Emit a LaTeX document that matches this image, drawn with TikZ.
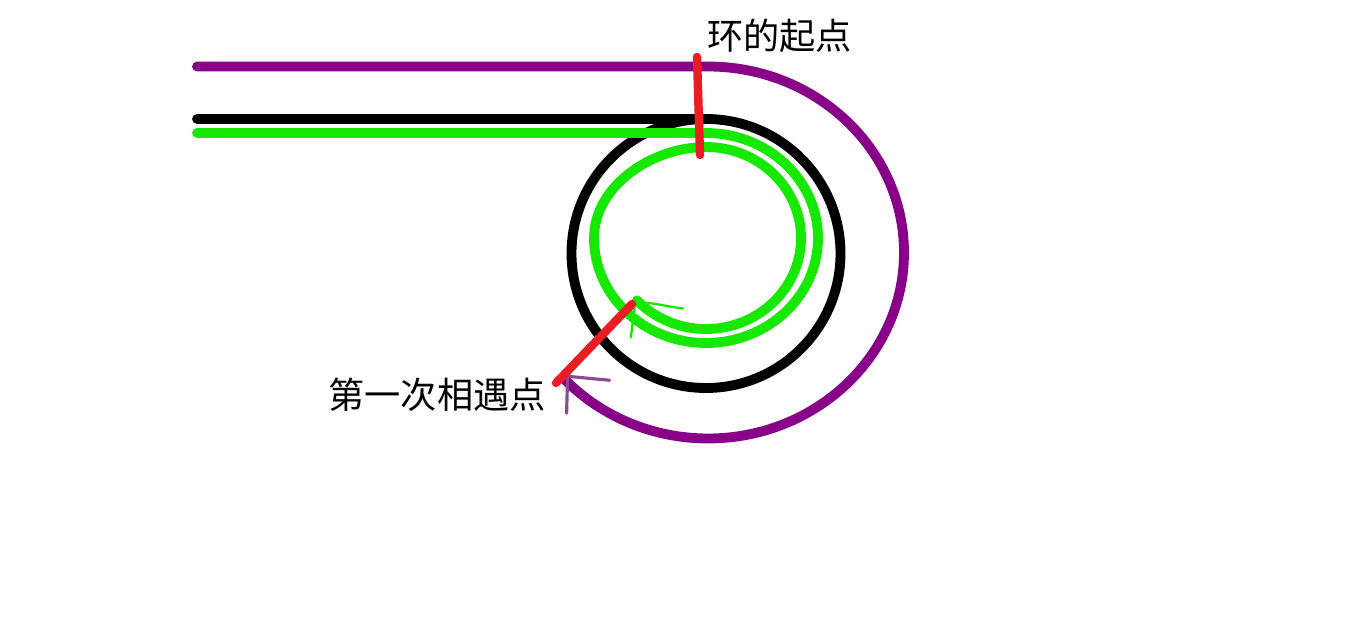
\documentclass[tikz,border=0pt]{standalone}
\usepackage{fontspec}
\newfontfamily\cjk{Noto Sans CJK SC}
\definecolor{pathpurple}{RGB}{136,0,136}
\definecolor{pathgreen}{RGB}{22,232,0}
\definecolor{markred}{RGB}{236,28,36}
\definecolor{tippurple}{RGB}{140,74,148}
\begin{document}
\begin{tikzpicture}[x=0.02cm,y=0.02cm,
  track/.style={line width=5.6pt, line cap=round},
  redmark/.style={draw=markred, line width=4.8pt, line cap=round},
  label/.style={font=\cjk\fontsize{20.6}{24}\selectfont, inner sep=0pt}]
\useasboundingbox (0,0) rectangle (1350,629);
% start points of the three tracks
\coordinate (p0) at (197,562.5);
\coordinate (b0) at (197,510);
\coordinate (g0) at (197,496);
% fast pointer (purple)
\draw[track, draw=pathpurple] (p0) -- (708,562.5)
  arc[start angle=90, end angle=-136.6, x radius=196, y radius=186] coordinate (pend);
% the list with its loop (black)
\draw[track, draw=black] (b0) -- (706,510)
  arc[start angle=90, end angle=-270, radius=134.5];
% slow pointer (green)
\draw[track, draw=pathgreen] (g0) -- (706,496)
  arc[start angle=90, end angle=-180, x radius=112, y radius=105]
  .. controls (594,443) and (652,482) .. (706,482)
  arc[start angle=90, end angle=-136.7, x radius=95, y radius=91] coordinate (gend);
% hand drawn tips
\draw[draw=pathgreen, line width=1.3pt, line cap=round] (gend) ++(-2,-4) -- ++(-4,-33);
\draw[draw=pathgreen, line width=1.3pt, line cap=round] (gend) ++(-2,-4)
  .. controls ++(15,4) and ++(-20,2) .. ++(48,-4);
\draw[draw=tippurple, line width=1.8pt, line cap=round] (pend) ++(2,4) -- ++(42,-4);
\draw[draw=tippurple, line width=1.8pt, line cap=round] (pend) ++(2,4) -- ++(-1,-37);
% marks
\coordinate (s1) at (697,572);
\coordinate (s2) at (700,474);
\coordinate (m1) at (556,246);
\coordinate (m2) at (632,325);
\draw[redmark] (s1) -- (s2);
\draw[redmark] (m1) -- (m2);
\node[label, anchor=west] (start) at (707,593) {环的起点};
\node[label, anchor=east] (meet) at (546,234) {第一次相遇点};
\end{tikzpicture}
\end{document}
